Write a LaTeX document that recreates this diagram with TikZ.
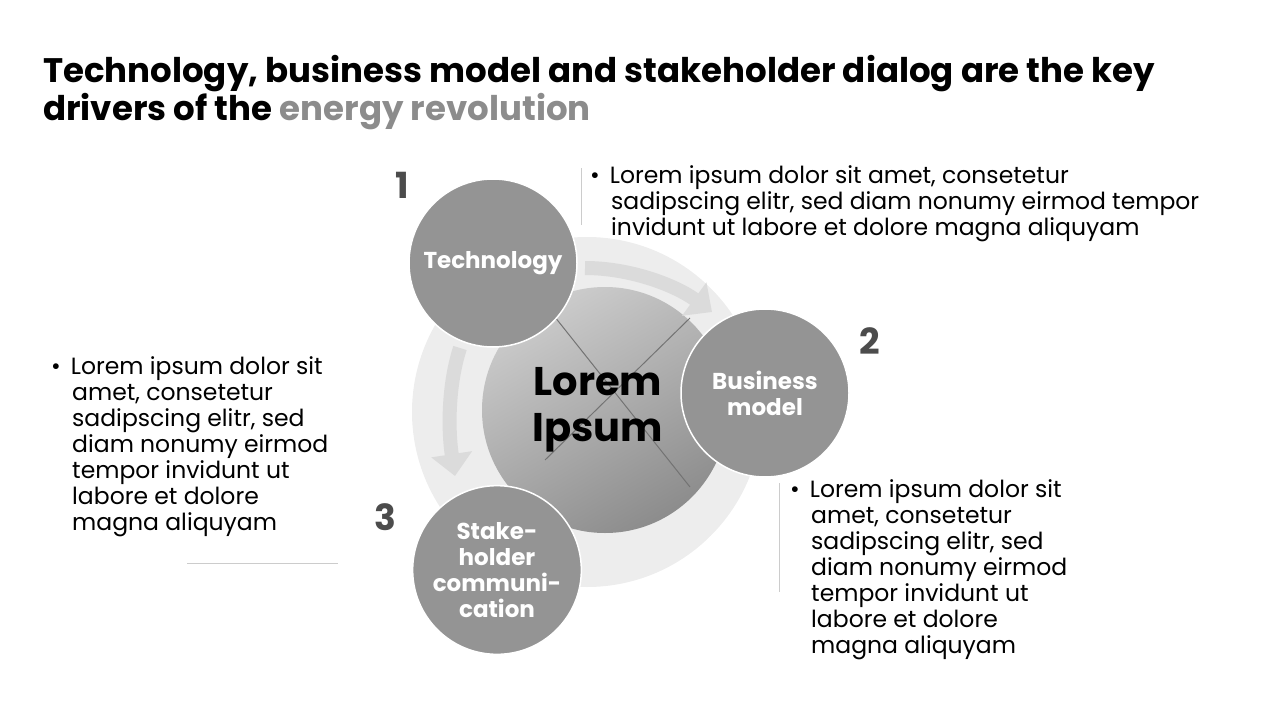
\documentclass[tikz,border=0pt]{standalone}
\usepackage{fontspec}
\setmainfont{Poppins}
\usetikzlibrary{positioning}
\usetikzlibrary{arrows.meta}
\definecolor{driver}{gray}{0.58}
\definecolor{ringgray}{gray}{0.93}
\definecolor{flowgray}{gray}{0.86}
\tikzstyle{driver}=[circle, fill=driver, draw=white, line width=1.5pt, minimum size=168pt, align=center, text=white, font=\bfseries\fontsize{23}{26}\selectfont]
\tikzstyle{number}=[font=\bfseries\fontsize{36}{36}\selectfont, text=black!70]
\tikzstyle{body}=[align=left, anchor=north west, font=\fontsize{23.5}{26}\selectfont, inner sep=0pt]
\tikzstyle{flow}=[draw=flowgray, line width=14pt, -{Triangle[length=22pt, width=40pt]}]
\tikzstyle{divider}=[draw=black!20, line width=0.6pt]

\begin{document}
\begin{tikzpicture}[x=1pt, y=-1pt]
      \useasboundingbox (0,0) rectangle (1280,720);

      \node[anchor=west, font=\bfseries\fontsize{34}{38}\selectfont, align=left, inner sep=0pt] (title) at (43,93) {Technology, business model and stakeholder dialog are the key\\drivers of the \textcolor{black!45}{energy revolution}};

      \fill[ringgray] (587,412) circle (175);
      \shade[left color=black!20, right color=black!45, shading angle=30] (605,410) circle (123);
      \draw[black!55, line width=1pt] (543,302) -- (690,487);
      \draw[black!55, line width=1pt] (690,318) -- (545,460);
      \coordinate (flowA1) at (585,268);
      \coordinate (flowA2) at (712,312);
      \coordinate (flowB1) at (460,348);
      \coordinate (flowB2) at (455,476);
      \draw[flow] (flowA1) .. controls (630,268) and (675,285) .. (flowA2);
      \draw[flow] (flowB1) .. controls (448,385) and (448,430) .. (flowB2);

      \node[font=\bfseries\fontsize{40}{46}\selectfont, align=center] (center) at (598,410) {Lorem\\Ipsum};

      \node[driver] (tech) at (493,263) {Technology};
      \node[driver] (business) at (765,393) {Business\\model};
      \node[driver] (stake) at (497,570) {Stake-\\holder\\communi-\\cation};

      \node[number] (n1) at (402,185) {1};
      \node[number] (n2) at (870,341) {2};
      \node[number] (n3) at (385,517) {3};

      \coordinate (div1a) at (581,168);
      \coordinate (div1b) at (581,225);
      \coordinate (div2a) at (779,483);
      \coordinate (div2b) at (779,592);
      \coordinate (div3a) at (187,563);
      \coordinate (div3b) at (338,563);
      \draw[divider] (div1a) -- (div1b);
      \draw[divider] (div2a) -- (div2b);
      \draw[divider] (div3a) -- (div3b);

      \node[body] (text1) at (590,165) {\textbullet\hspace{10pt}Lorem ipsum dolor sit amet, consetetur\\\hspace{21pt}sadipscing elitr, sed diam nonumy eirmod tempor\\\hspace{21pt}invidunt ut labore et dolore magna aliquyam};
      \node[body] (text2) at (790,479) {\textbullet\hspace{10pt}Lorem ipsum dolor sit\\\hspace{21pt}amet, consetetur\\\hspace{21pt}sadipscing elitr, sed\\\hspace{21pt}diam nonumy eirmod\\\hspace{21pt}tempor invidunt ut\\\hspace{21pt}labore et dolore\\\hspace{21pt}magna aliquyam};
      \node[body] (text3) at (51,356) {\textbullet\hspace{10pt}Lorem ipsum dolor sit\\\hspace{21pt}amet, consetetur\\\hspace{21pt}sadipscing elitr, sed\\\hspace{21pt}diam nonumy eirmod\\\hspace{21pt}tempor invidunt ut\\\hspace{21pt}labore et dolore\\\hspace{21pt}magna aliquyam};
\end{tikzpicture}
\end{document}
